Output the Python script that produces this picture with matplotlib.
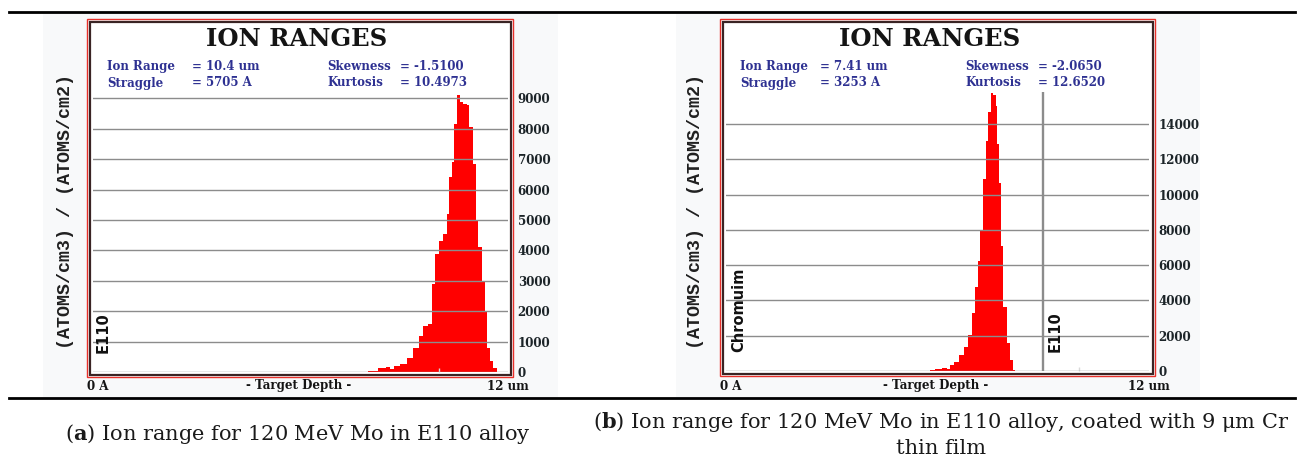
import matplotlib
matplotlib.use("Agg")
import matplotlib.pyplot as plt
from matplotlib.patches import Rectangle
from matplotlib.lines import Line2D

depth_a = [7.77, 8.11, 8.40, 8.54, 8.64, 8.78, 8.97, 9.17, 9.36, 9.51, 9.60, 9.79,
           9.84, 9.94, 10.08, 10.18, 10.27, 10.32, 10.42, 10.47, 10.56, 10.66, 10.76,
           10.85, 10.92, 11.05, 11.10, 11.19, 11.29, 11.38, 11.43, 11.53, 11.62, 11.72]
counts_a = [10, 33, 120, 165, 90, 200, 250, 470, 800, 1190, 1520, 1570,
            2890, 3880, 4320, 4540, 5200, 6410, 6900, 8170, 9100, 8890, 8830,
            8780, 8060, 6850, 4980, 4100, 3000, 2010, 800, 360, 120, 10]

depth_b = [5.79, 6.07, 6.21, 6.31, 6.40, 6.54, 6.69, 6.83, 6.92, 7.02, 7.11, 7.16,
           7.25, 7.35, 7.40, 7.49, 7.54, 7.63, 7.68, 7.72, 7.77, 7.82, 7.91, 8.01,
           8.10, 8.20]
counts_b = [40, 115, 190, 115, 320, 510, 890, 1370, 2030, 3270, 4790, 6210,
            8020, 10870, 13050, 14670, 15770, 15620, 15050, 12860, 10680, 7070, 3650, 1560,
            610, 40]

yticks_a = list(range(0, 9001, 1000))
yticks_b = list(range(0, 14001, 2000))
coating_um = 9
layer_top_b = 15800

stats_a = [("Ion Range", "= 10.4 um"), ("Straggle", "= 5705 A"),
           ("Skewness", "= -1.5100"), ("Kurtosis", "= 10.4973")]
stats_b = [("Ion Range", "= 7.41 um"), ("Straggle", "= 3253 A"),
           ("Skewness", "= -2.0650"), ("Kurtosis", "= 12.6520")]

caption_a = r"($\mathbf{a}$) Ion range for 120 MeV Mo in E110 alloy"
caption_b = r"($\mathbf{b}$) Ion range for 120 MeV Mo in E110 alloy, coated with 9 μm Cr" + "\nthin film"

plt.rcParams["mathtext.fontset"] = "dejavuserif"

W, H = 1305, 459
fig = plt.figure(figsize=(W / 100, H / 100), dpi=100)


def fx(x):
    return x / W


def fy(y):
    return 1 - y / H


def rect(l, t, r, b, **kw):
    fig.add_artist(Rectangle((fx(l), fy(b)), (r - l) / W, (b - t) / H,
                             transform=fig.transFigure, **kw))


def hline(x0, x1, y, **kw):
    fig.add_artist(Line2D([fx(x0), fx(x1)], [fy(y), fy(y)], transform=fig.transFigure, **kw))


serif = "DejaVu Serif"
navy = "#2e3192"


def panel(frame, box, xs, ys, yticks, ymax, stats, off, ylab_x, marks):
    l, t, r, b = frame
    # faint image background and the double frame
    rect(l - 44, 12, r + 45, 398, facecolor="#f8f9fa", edgecolor="none", zorder=-3)
    rect(l, t, r, b, facecolor="white", edgecolor="#e8302a", lw=1.0, zorder=-2)
    rect(l + 2.5, t + 2.5, r - 2.5, b - 2.5, facecolor="none", edgecolor="#3a2424", lw=1.6, zorder=3)

    al, at, ar, ab = box
    ax = fig.add_axes([fx(al), fy(ab), (ar - al) / W, (ab - at) / H])
    ax.set_facecolor("none")
    ax.fill_between(xs, ys, step="mid", color="red", lw=0, zorder=1)
    ax.set_xlim(0, 12)
    ax.set_ylim(0, ymax)
    ax.set_axisbelow(False)
    for s in ax.spines.values():
        s.set_visible(False)
    ax.yaxis.tick_right()
    ax.set_yticks(yticks)
    ax.set_yticklabels([str(v) for v in yticks], family=serif, weight="bold",
                       fontsize=8.6, color="#1c2428")
    ax.tick_params(axis="y", length=0, pad=7)
    ax.grid(axis="y", color="#8c8c8c", lw=1.0)
    ax.set_xticks([10])
    ax.set_xticklabels([""])
    ax.tick_params(axis="x", direction="in", length=3, color="#d8d8d8", width=1)

    # header
    cx = l + 210
    fig.text(fx(cx), fy(46), "ION RANGES", family=serif, weight="bold", fontsize=17.5,
             ha="center", va="baseline", color="#141414")
    rows = [(stats[0], stats[2]), (stats[1], stats[3])]
    for i, (left, right) in enumerate(rows):
        yb = 70 + i * 16.5
        for xo, s in [(20, left[0]), (off[0], left[1]), (off[1], right[0]), (off[2], right[1])]:
            fig.text(fx(l + xo), fy(yb), s, family=serif, weight="bold", fontsize=8.5,
                     color=navy, va="baseline")

    # y label
    fig.text(fx(ylab_x), fy(211.5), "(ATOMS/cm3) / (ATOMS/cm2)", family="Liberation Mono",
             weight="bold", fontsize=13.2, rotation=90, ha="center", va="center", color="#202020")

    # x labels
    fig.text(fx(l), fy(386), "0 A", family=serif, weight="bold", fontsize=8.6,
             ha="left", va="center", color="#141414")
    fig.text(fx((al + ar) / 2 - 2), fy(386), "- Target Depth -", family=serif, weight="bold",
             fontsize=8.6, ha="center", va="center", color="#141414")
    fig.text(fx(ar), fy(386), "12 um", family=serif, weight="bold", fontsize=8.6,
             ha="center", va="center", color="#141414")

    for (mx, my, s) in marks:
        fig.text(fx(mx), fy(my), s, family="DejaVu Sans", weight="bold", fontsize=10.5,
                 rotation=90, ha="center", va="center", color="#111111")
    return ax


ax_a = panel((87, 19, 513, 377), (93, 88, 508, 372), depth_a, counts_a, yticks_a,
             (372 - 88) / 30.39 * 1000, stats_a, (105, 240, 313), 66,
             [(103, 333, "E110")])

ax_b = panel((720, 19, 1155, 376), (726, 88, 1149, 371), depth_b, counts_b, yticks_b,
             (371 - 88) / 17.64 * 1000, stats_b, (100, 245, 318), 696,
             [(739, 310, "Chromuim"), (1055, 332, "E110")])
ax_b.vlines(coating_um, 0, layer_top_b, color="#8c8c8c", lw=1.7, zorder=3)

# rules of the figure table
hline(9, 1295, 11.5, color="black", lw=2.0)
hline(9, 1295, 398, color="black", lw=2.0)

fig.text(fx(298), fy(434), caption_a, family=serif, fontsize=15, ha="center", va="center",
         color="#1a1a1a")
fig.text(fx(941), fy(434), caption_b, family=serif, fontsize=15, ha="center", va="center",
         color="#1a1a1a", multialignment="center", linespacing=1.3)

fig.savefig("out.png", dpi=100)
